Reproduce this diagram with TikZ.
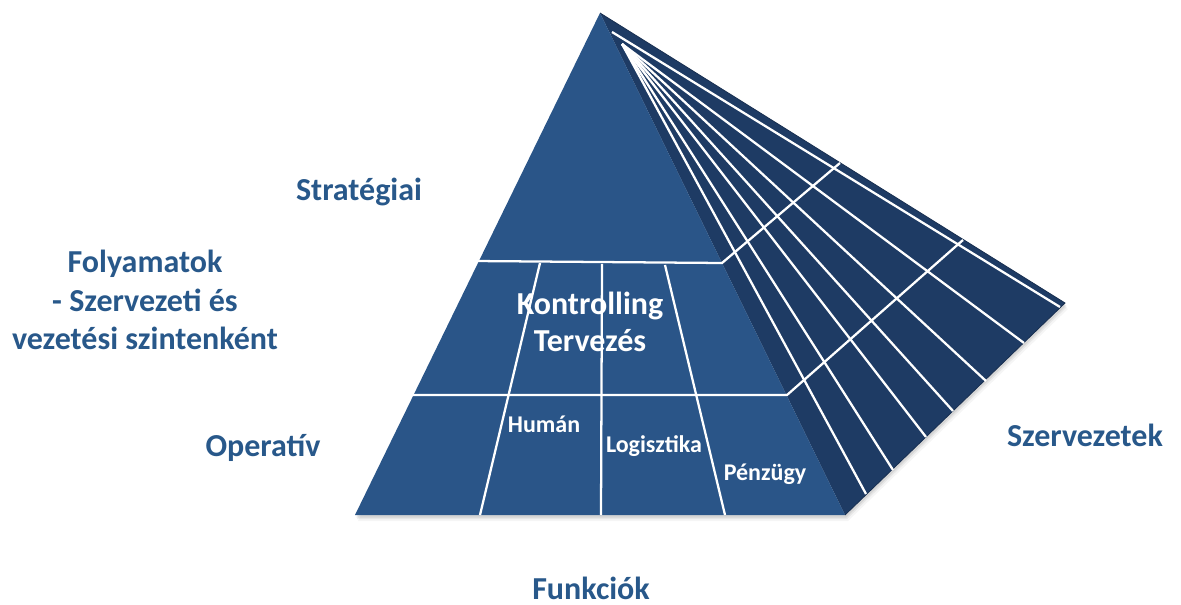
\documentclass[tikz,border=0pt]{standalone}
\usepackage{fontspec}
\setmainfont{Carlito}
\definecolor{frontc}{RGB}{42,85,136}
\definecolor{sidec}{RGB}{30,59,100}
\definecolor{txtc}{RGB}{40,88,138}
\begin{document}
\begin{tikzpicture}[x=0.75pt,y=-0.75pt,
  lbl/.style={text=txtc, font=\fontsize{24}{29}\selectfont\bfseries, align=center, inner sep=0, anchor=base},
  inlbl/.style={text=white, font=\fontsize{24}{27.8}\selectfont\bfseries, align=center, inner sep=0, anchor=base},
  smlbl/.style={text=white, font=\fontsize{18}{20}\selectfont\bfseries, inner sep=0, anchor=base},
  gridline/.style={draw=white, line width=1.7pt, line join=round},
  faceedge/.style={draw=sidec!80!black, line width=0.6pt}]
\useasboundingbox (0,0) rectangle (1181,605);
% shadow
\foreach \d/\o in {6/0.04,4/0.06,2.5/0.08} {
  \fill[black,opacity=\o,shift={({\d*0.5},\d)}] (600,13) -- (355,515) -- (845,515) -- (1065,303) -- cycle;
}
% key points
\coordinate (A) at (600,13);
\coordinate (BL) at (355,515);
\coordinate (BR) at (845,515);
\coordinate (R) at (1065,303);
% faces
\fill[sidec] (A) -- (R) -- (BR) -- cycle;
\fill[frontc] (A) -- (BL) -- (BR) -- cycle;
\draw[faceedge] (A) -- (R) -- (BR);
% radial lines on the right face
\coordinate (S) at (622,44);
\coordinate (St) at (612,32);
\coordinate (E1) at (866,494);
\coordinate (E2) at (893,470);
\coordinate (E3) at (926,437);
\coordinate (E4) at (953,411);
\coordinate (E5) at (986,381);
\coordinate (E6) at (1024,343);
\coordinate (E7) at (1060,307);
\foreach \e in {E1,E2,E3,E4,E5,E6} { \draw[gridline] (S) -- (\e); }
\draw[gridline] (St) -- (E7);
% level lines folding onto the right face
\coordinate (H1L) at (473,261);
\coordinate (H1M) at (722,263);
\coordinate (H1R) at (840,163);
\coordinate (H2L) at (405,395);
\coordinate (H2M) at (787,395);
\coordinate (H2R) at (963,240);
\draw[gridline] (H1L) -- (H1M) -- (H1R);
\draw[gridline] (H2L) -- (H2M) -- (H2R);
% function dividers on the front face
\coordinate (V1t) at (540,263);
\coordinate (V1b) at (480,515);
\coordinate (V2t) at (602,264);
\coordinate (V2b) at (601,515);
\coordinate (V3t) at (665,265);
\coordinate (V3b) at (725,515);
\draw[gridline] (V1t) -- (V1b);
\draw[gridline] (V2t) -- (V2b);
\draw[gridline] (V3t) -- (V3b);
% labels inside
\node[inlbl] (kont) at (590,352) {Kontrolling\\Tervezés};
\node[smlbl] (hum) at (544,433) {Humán};
\node[smlbl] (log) at (654,453) {Logisztika};
\node[smlbl] (penz) at (765,480) {Pénzügy};
% labels outside
\node[lbl] (strat) at (359,201) {Stratégiai};
\node[lbl] (foly) at (145,350) {Folyamatok\\- Szervezeti és\\vezetési szintenként};
\node[lbl] (oper) at (263,457) {Operatív};
\node[lbl] (funk) at (591,599) {Funkciók};
\node[lbl] (szerv) at (1085,446) {Szervezetek};
\end{tikzpicture}
\end{document}
